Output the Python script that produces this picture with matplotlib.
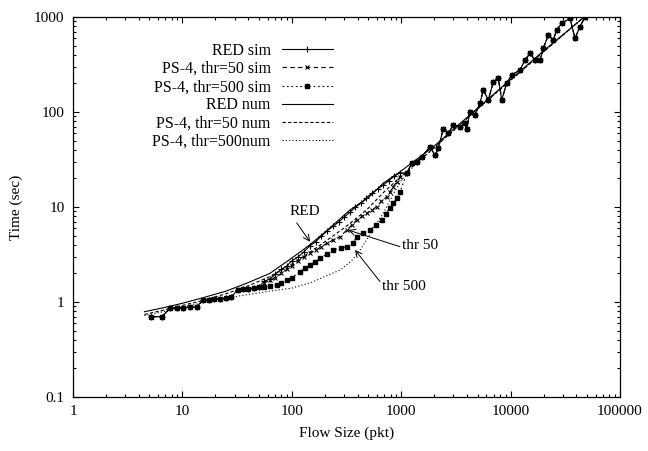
import matplotlib
matplotlib.use("Agg")
import matplotlib.pyplot as plt
from matplotlib.ticker import LogLocator, FuncFormatter, NullFormatter

# ---- numerical curves ----
red_num_x = [4.5, 7, 10, 15, 25, 40, 63, 100, 146, 200, 340, 500, 686, 1000, 1965, 5000, 10000, 20000, 47000]
red_num_y = [0.79, 0.88, 0.97, 1.1, 1.3, 1.6, 2.0, 2.9, 4.0, 5.4, 9.3, 12.5, 17.8, 24, 43, 110, 220, 440, 1000]

thr50_num_x = [4.5, 7, 10, 15, 25, 40, 63, 100, 150, 200, 300, 400, 500, 700, 1000, 2000, 5000, 10000, 20000, 47000]
thr50_num_y = [0.74, 0.83, 0.92, 1.03, 1.22, 1.48, 1.85, 2.5, 3.4, 4.3, 6.0, 7.8, 9.7, 14.5, 21, 42, 108, 215, 430, 1000]

thr500_num_x = [4.5, 7, 10, 15, 25, 40, 63, 100, 150, 200, 276, 350, 421, 500, 600, 700, 800, 900, 1000, 1300, 2000, 5000, 10000, 20000, 47000]
thr500_num_y = [0.72, 0.8, 0.88, 0.98, 1.1, 1.2, 1.3, 1.4, 1.6, 1.85, 2.17, 2.7, 3.53, 4.8, 6.8, 9.0, 12, 15.5, 19, 27, 42, 108, 215, 430, 1000]

# ---- simulation points ----
low_x = [5.2, 6.5, 7.7, 8.9, 10.1, 11.7, 13.5, 15.5, 17.5, 19.5, 22, 25, 28, 32, 36, 40, 45, 50]
low_y = [0.70, 0.70, 0.86, 0.87, 0.87, 0.88, 0.89, 1.05, 1.06, 1.07, 1.08, 1.10, 1.13, 1.34, 1.36, 1.38, 1.40, 1.43]

tail_x = [1122, 1247, 1386, 1540, 1833, 2037, 2184, 2427, 2694, 2993, 3445, 3827, 3969, 4254, 4727,
          5250, 5627, 6252, 6950, 7724, 8295, 9204, 10226, 12190, 13540, 15040, 16710, 18570, 19910,
          22120, 24570, 26370, 29300, 34910, 38790, 43050, 47860]
tail_y = [22.6, 28.8, 30, 33.8, 43, 35, 41.5, 67, 59.7, 73, 70, 76, 67, 101, 93,
          124, 171, 134, 208, 226, 134, 200, 245, 277, 352, 415, 352, 352, 469,
          647, 573, 730, 858, 969, 597, 791, 1000]

red_mid_x = [56, 63, 70, 80, 90, 100, 115, 130, 146, 165, 185, 210, 240, 270, 300, 340, 380, 430, 480, 540, 610, 686, 770, 860, 975]
red_mid_y = [1.65, 1.75, 1.95, 2.2, 2.4, 2.7, 3.0, 3.4, 3.9, 4.3, 4.9, 5.6, 6.3, 7.0, 7.8, 8.8, 9.9, 11, 12.5, 14, 15.5, 17, 19, 21, 23]

thr50_mid_x = [56, 63, 70, 80, 90, 100, 115, 130, 147, 165, 185, 208, 240, 276, 318, 355, 392, 440, 484, 540, 597, 660, 737, 790, 847, 910, 975]
thr50_mid_y = [1.6, 1.7, 1.8, 2.0, 2.2, 2.4, 2.7, 3.0, 3.26, 3.5, 3.8, 4.15, 4.5, 4.87, 5.72, 6.5, 7.3, 8.0, 8.6, 9.3, 10.1, 11.5, 12.8, 14.5, 16.4, 18.5, 20.8]

thr500_mid_x = [56, 63, 72.8, 80, 89.8, 100, 119, 133, 147, 163, 181, 210, 239, 280, 318, 365, 392, 450, 519, 590, 663, 720, 790, 850, 908, 975]
thr500_mid_y = [1.45, 1.47, 1.51, 1.6, 1.70, 1.8, 2.08, 2.3, 2.45, 2.65, 2.88, 3.2, 3.53, 3.7, 3.82, 4.15, 4.87, 5.3, 5.72, 6.5, 7.3, 8.5, 9.7, 11, 12.4, 14.3]

red_sim_x = low_x + red_mid_x + tail_x
red_sim_y = low_y + red_mid_y + tail_y
thr50_sim_x = low_x + thr50_mid_x + tail_x
thr50_sim_y = low_y + thr50_mid_y + tail_y
thr500_sim_x = low_x + thr500_mid_x + tail_x
thr500_sim_y = low_y + thr500_mid_y + tail_y

plt.rcParams["font.family"] = ["Liberation Serif", "DejaVu Serif"]
plt.rcParams["font.size"] = 11

fig = plt.figure(figsize=(6.48, 4.51), dpi=100)
ax = fig.add_axes([73 / 648, 1 - 397 / 451, (620 - 73) / 648, (397 - 17) / 451])

lw = 0.8
ax.plot(red_sim_x, red_sim_y, color="black", lw=lw, ls="-", marker="+", ms=4, mew=0.8,
        label="RED sim")
ax.plot(thr50_sim_x, thr50_sim_y, color="black", lw=lw, ls=(0, (4, 3)), marker="x", ms=3, mew=0.8,
        label="PS-4, thr=50 sim")
ax.plot(thr500_sim_x, thr500_sim_y, color="black", lw=lw, ls=(0, (1.5, 2.5)), marker="s", ms=2.5,
        label="PS-4, thr=500 sim")
ax.plot(red_num_x, red_num_y, color="black", lw=lw, ls="-", label="RED num")
ax.plot(thr50_num_x, thr50_num_y, color="black", lw=lw, ls=(0, (3, 2)), label="PS-4, thr=50 num")
ax.plot(thr500_num_x, thr500_num_y, color="black", lw=lw, ls=(0, (1, 2)), label="PS-4, thr=500num")

ax.set_xscale("log")
ax.set_yscale("log")
ax.set_xlim(1, 100000)
ax.set_ylim(0.1, 1000)

fmt = FuncFormatter(lambda v, p: f"{v:g}" if v < 1e5 else "100000")
ax.xaxis.set_major_locator(LogLocator(base=10, numticks=10))
ax.yaxis.set_major_locator(LogLocator(base=10, numticks=10))
ax.xaxis.set_major_formatter(fmt)
ax.yaxis.set_major_formatter(fmt)
ax.xaxis.set_minor_locator(LogLocator(base=10, subs=range(2, 10), numticks=20))
ax.yaxis.set_minor_locator(LogLocator(base=10, subs=range(2, 10), numticks=20))
ax.xaxis.set_minor_formatter(NullFormatter())
ax.yaxis.set_minor_formatter(NullFormatter())
ax.tick_params(which="both", direction="in", top=True, right=True, width=0.8)
ax.tick_params(which="major", length=4, pad=6)
ax.tick_params(which="minor", length=2)
for s in ax.spines.values():
    s.set_linewidth(0.9)

ax.set_xlabel("Flow Size (pkt)", labelpad=6)
ax.set_ylabel("Time (sec)", labelpad=8)

ax.legend(loc="upper right", bbox_to_anchor=(333 / 648, 1 - 43 / 451),
          bbox_transform=fig.transFigure, frameon=False, markerfirst=False,
          handlelength=3.2, handletextpad=0.7, labelspacing=0.13, borderpad=0,
          borderaxespad=0, fontsize=11.5)

arrow = dict(arrowstyle="->", lw=0.7, color="black", shrinkA=0, shrinkB=0)
ax.annotate("", xy=(147, 4.3), xytext=(111, 6.8), arrowprops=arrow)
ax.text(132, 7.6, "RED", ha="center", va="bottom")
ax.annotate("", xy=(328, 5.72), xytext=(975, 3.82), arrowprops=arrow)
ax.text(1010, 3.9, "thr 50", ha="left", va="center")
ax.annotate("", xy=(378, 3.53), xytext=(640, 1.64), arrowprops=arrow)
ax.text(663, 1.44, "thr 500", ha="left", va="center")

fig.savefig("out.png", dpi=100)
